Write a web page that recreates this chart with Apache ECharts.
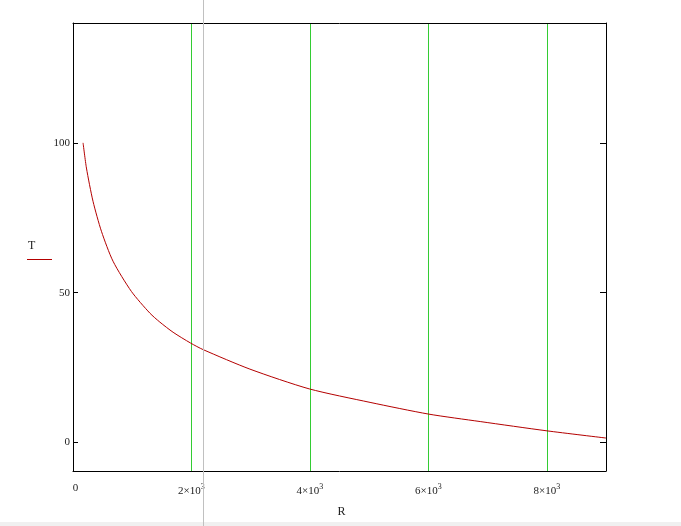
<!DOCTYPE html>
<html>
<head>
<meta charset="utf-8">
<script src="https://cdn.jsdelivr.net/npm/echarts@6/dist/echarts.min.js"></script>
<style>
html,body{margin:0;padding:0;background:#fff;}
#c{width:681px;height:526px;}
</style>
</head>
<body>
<div id="c"></div>
<script>
// Data
var R = [170, 227, 338, 480, 676, 987, 1297, 1466, 1690, 1985, 2198, 2987, 3990, 5016, 6002, 6876, 8003, 9000];
var T = [100, 91.6, 80.5, 70.5, 60.5, 50.4, 43.2, 40.2, 36.8, 33.2, 31.0, 24.5, 17.9, 13.4, 9.5, 7.0, 3.9, 1.5];
var xTicks = [0, 2000, 4000, 6000, 8000];
var yTicks = [0, 50, 100];
var gridStep = 2000;
var cursorR = 2200;

var chart = echarts.init(document.getElementById('c'), null, {renderer: 'canvas'});
var serif = 'Liberation Serif, Times New Roman, serif';
var GREEN = '#33cc33';
var RED = '#b40000';

function xLabel(v) {
  if (v === 0) return '{z|0}';
  var m = v / 1000;
  return '{b|' + m + '×10}{s|3}';
}

var option = {
  animation: false,
  backgroundColor: '#fff',
  grid: {left: 73, right: 75, top: 23, bottom: 55, containLabel: false},
  xAxis: [{
    type: 'value', min: 0, max: 9000, position: 'bottom',
    name: 'R', nameLocation: 'middle', nameGap: 35,
    nameTextStyle: {fontFamily: serif, fontSize: 12, color: '#222', padding: [0, 0, 0, 4]},
    axisLine: {show: true, onZero: false, lineStyle: {color: '#000', width: 1}},
    axisTick: {show: false},
    splitLine: {show: false},
    axisLabel: {
      customValues: xTicks, margin: 12,
      formatter: xLabel,
      fontFamily: serif, fontSize: 11, color: '#222',
      rich: {
        z: {fontFamily: serif, fontSize: 11, color: '#222', padding: [0, 0, 0, 5]},
        b: {fontFamily: serif, fontSize: 11, color: '#222'},
        s: {fontFamily: serif, fontSize: 8, color: '#222', verticalAlign: 'bottom', padding: [0, 0, 9, 0]}
      }
    },
    z: 5
  }, {
    type: 'value', min: 0, max: 9000, interval: gridStep, position: 'top',
    axisLine: {show: true, onZero: false, lineStyle: {color: '#000', width: 1}},
    axisTick: {show: false}, axisLabel: {show: false},
    splitLine: {show: true, lineStyle: {color: GREEN, width: 1, type: 'solid'}},
    z: 1
  }],
  yAxis: [{
    type: 'value', min: -9.5, max: 140, position: 'left',
    axisLine: {show: true, onZero: false, lineStyle: {color: '#000', width: 1}},
    axisTick: {show: true, inside: true, length: 5, customValues: yTicks, lineStyle: {color: '#000'}},
    splitLine: {show: false},
    axisLabel: {customValues: yTicks, margin: 3, fontFamily: serif, fontSize: 11, color: '#222'},
    z: 5
  }, {
    type: 'value', min: -9.5, max: 140, position: 'right',
    axisLine: {show: true, onZero: false, lineStyle: {color: '#000', width: 1}},
    axisTick: {show: true, inside: true, length: 6, customValues: yTicks, lineStyle: {color: '#000'}},
    splitLine: {show: false},
    axisLabel: {show: false},
    z: 5
  }],
  series: [{
    type: 'line',
    data: R.map(function (r, i) { return [r, T[i]]; }),
    showSymbol: false,
    smooth: 0.25,
    clip: true,
    lineStyle: {color: RED, width: 1},
    itemStyle: {color: RED},
    z: 3
  }]
};
chart.setOption(option);

var cx = Math.round(chart.convertToPixel({xAxisIndex: 0}, cursorR)) + 0.5;
chart.setOption({
  graphic: [
    {type: 'rect', shape: {x: 0, y: 522, width: 681, height: 4}, style: {fill: '#f0f0f0'}, silent: true, z: 1},
    {type: 'line', shape: {x1: cx, y1: 0, x2: cx, y2: 526}, style: {stroke: '#c0c0c0', lineWidth: 1}, silent: true, z: 100},
    {type: 'text', left: 28, top: 240, style: {text: 'T', font: '12px ' + serif, fill: '#222'}, silent: true},
    {type: 'line', shape: {x1: 27, y1: 259.5, x2: 52, y2: 259.5}, style: {stroke: RED, lineWidth: 1}, silent: true, z: 100}
  ]
});
</script>
</body>
</html>
